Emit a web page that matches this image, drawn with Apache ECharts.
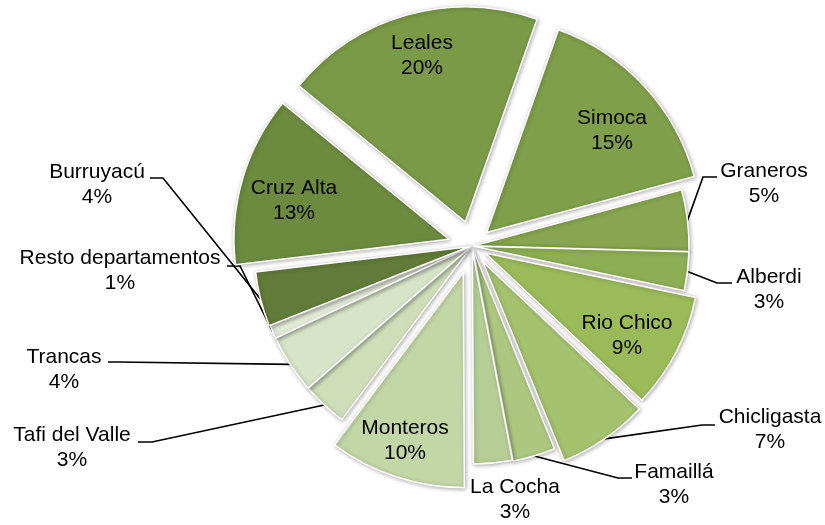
<!DOCTYPE html>
<html>
<head>
<meta charset="utf-8">
<script src="https://cdn.jsdelivr.net/npm/echarts@6/dist/echarts.min.js"></script>
<style>
  html, body { margin: 0; padding: 0; background: #fff; }
  #chart { width: 825px; height: 525px; }
</style>
</head>
<body>
<div id="chart"></div>
<script>
// slices, clockwise from Simoca
const names = ['Simoca', 'Graneros', 'Alberdi', 'Rio Chico', 'Chicligasta', 'Famaillá', 'La Cocha',
  'Monteros', 'Tafi del Valle', 'Trancas', 'Resto departamentos', 'Burruyacú', 'Cruz Alta', 'Leales'];
const values = [15.4, 4.6, 2.9, 8.7, 6.8, 3.2, 2.9, 10.3, 3.4, 4.4, 1.0, 4.1, 12.8, 19.5];
const colors = ['#7f9f4a', '#87a64f', '#8eae53', '#9bbb59', '#a5c26e', '#adc780', '#b6ce95',
  '#c3d6a6', '#cfddb9', '#d8e4c8', '#e2eAd8', '#627b38', '#6c8b3f', '#7a9a47'];

// how far each slice is pulled out (px)
const explode = [20, 2, 2, 15, 19, 4, 3, 28, 2, 2, 2, 3, 24, 25];
const inside = [true, false, false, true, false, false, false, true, false, false, false, false, true, true];
// label block centres
const labelAt = [[612, 131], [764, 184], [769, 290], [627, 336], [770, 430], [674, 485], [515, 500],
  [405, 441], [72, 448], [64, 370], [120, 271], [97, 185], [294, 201], [422, 56]];
// leader elbow + end next to the label (null = no leader)
const leader = [null, [[703, 177], [717, 177]], [[717, 283], [732, 283]], null,
  [[702, 425], [715, 425]], [[618, 478], [632, 478]], null, null,
  [[152, 442], [138, 442]], [[118, 362], [108, 362]], [[240, 266], [227, 266]],
  [[163, 178], [150, 178]], null, null];

const cx = 472, cy = 246, radius = 215, startAngle = 70.5;
const total = values.reduce((a, b) => a + b, 0);

const chart = echarts.init(document.getElementById('chart'), null, { renderer: 'canvas' });

let acc = 0;
const series = names.map((name, i) => {
  // mid angle, degrees clockwise from 12 o'clock
  const mid = (90 - startAngle) + (acc + values[i] / 2) / total * 360;
  acc += values[i];
  const rad = mid * Math.PI / 180;
  const data = names.map((n, j) => {
    if (j === i) {
      return { name: n, value: values[j], itemStyle: { color: colors[j] } };
    }
    return {
      name: n, value: values[j],
      itemStyle: { color: 'transparent', borderWidth: 0, shadowBlur: 0, shadowOffsetX: 0, shadowOffsetY: 0 },
      label: { show: false }, labelLine: { show: false }
    };
  });
  return {
    type: 'pie',
    center: [cx + explode[i] * Math.sin(rad), cy - explode[i] * Math.cos(rad)],
    radius: radius,
    startAngle: startAngle,
    clockwise: true,
    percentPrecision: 0,
    avoidLabelOverlap: false,
    silent: true,
    animation: false,
    emphasis: { disabled: true },
    itemStyle: {
      borderColor: '#fff', borderWidth: 1.5,
      shadowColor: 'rgba(0,0,0,0.3)', shadowBlur: 4, shadowOffsetX: 1, shadowOffsetY: 1
    },
    label: {
      show: true,
      position: inside[i] ? 'inside' : 'outside',
      formatter: '{b}\n{d}%',
      color: '#000',
      fontFamily: 'Liberation Sans, Arial, sans-serif',
      fontSize: 21,
      lineHeight: 25
    },
    labelLine: {
      show: !!leader[i],
      length: 10, length2: 10,
      lineStyle: { color: '#000', width: 1.6 }
    },
    labelLayout: (params) => {
      if (params.dataIndex !== i) return {};
      const out = { x: labelAt[i][0], y: labelAt[i][1], align: 'center', verticalAlign: 'middle' };
      if (leader[i] && params.labelLinePoints) {
        out.labelLinePoints = [params.labelLinePoints[0], leader[i][0], leader[i][1]];
      }
      return out;
    },
    data: data
  };
});

chart.setOption({
  backgroundColor: '#fff',
  series: series
});
</script>
</body>
</html>
